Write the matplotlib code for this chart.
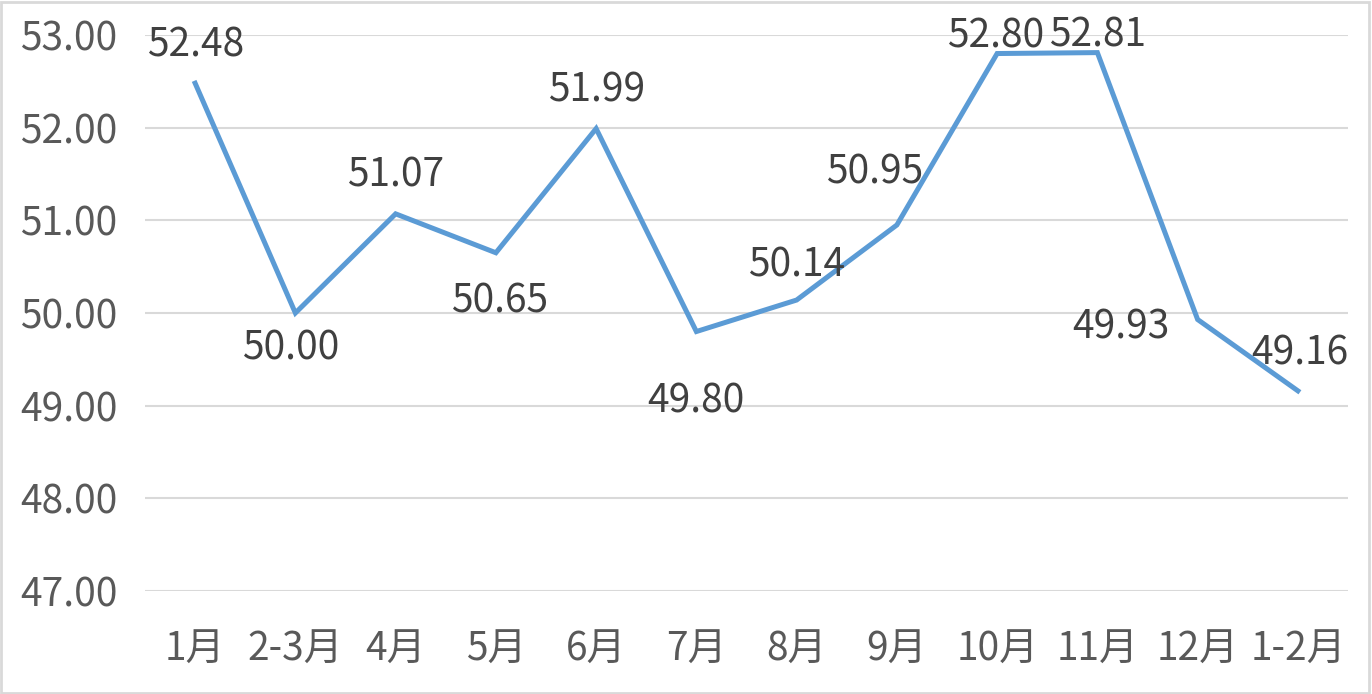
import numpy as np
import matplotlib.pyplot as plt
from matplotlib.patches import Rectangle

# data
months = ['1月', '2-3月', '4月', '5月', '6月', '7月', '8月', '9月', '10月', '11月', '12月', '1-2月']
values = [52.48, 50.00, 51.07, 50.65, 51.99, 49.80, 50.14, 50.95, 52.80, 52.81, 49.93, 49.16]

# label offsets in pixels (dx, dy)
labelOffsets = [(0, 38), (-5, -35), (0, 38), (4, -49), (0, 38), (0, -70),
                (0, 35), (-22, 52), (-2, 17), (0, 17), (-77, -8), (2, 37)]

plt.rcParams['font.family'] = ['Noto Sans CJK SC', 'DejaVu Sans']

fig = plt.figure(figsize=(13.72, 6.94), dpi=100)
ax = fig.add_axes([145/1372, 1 - 591/694, (1348 - 145)/1372, (591 - 35)/694])

x = np.arange(len(months))
ax.plot(x, values, color='#5B9BD5', linewidth=3.6, solid_joinstyle='miter', zorder=3)

for i, v in enumerate(values):
    dx, dy = labelOffsets[i]
    ax.annotate('%.2f' % v, (x[i], v), xytext=(dx, dy), textcoords='offset pixels',
                ha='center', va='center', fontsize=28, color='#404040',
                annotation_clip=False)

ax.set_xlim(-0.5, len(months) - 0.5)
ax.set_ylim(47, 53)
ax.set_yticks(np.arange(47, 53.5, 1))
ax.set_yticklabels(['%.2f' % t for t in np.arange(47, 53.5, 1)])
ax.set_xticks(x)
ax.set_xticklabels(months)
ax.tick_params(axis='both', length=0, labelsize=28, labelcolor='#595959')
ax.tick_params(axis='y', pad=20)
ax.tick_params(axis='x', pad=28)
ax.grid(axis='y', color='#D9D9D9', linewidth=1.5)
ax.set_axisbelow(True)
for s in ax.spines.values():
    s.set_visible(False)

fig.patches.append(Rectangle((0.001, 0.002), 0.997, 0.995, transform=fig.transFigure,
                             fill=False, edgecolor='#D9D9D9', linewidth=2))

fig.savefig('out.png', dpi=100)
